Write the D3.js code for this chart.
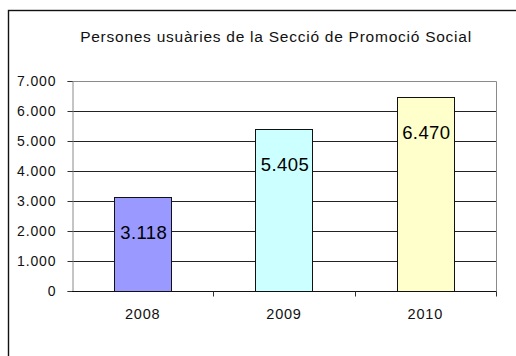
<!DOCTYPE html>
<html>
<head>
<meta charset="utf-8">
<script src="https://cdn.jsdelivr.net/npm/d3@7"></script>
<style>
  html, body { margin: 0; padding: 0; background: #fff; }
  svg { display: block; font-family: "Liberation Sans", Arial, Helvetica, sans-serif; }
</style>
</head>
<body>
<svg id="chart" width="516" height="356"></svg>
<script>
// Chart data
const title = "Persones usuàries de la Secció de Promoció Social";
const years = ["2008", "2009", "2010"];
const users = [3118, 5405, 6470];
const barColors = ["#9999FF", "#CCFFFF", "#FFFFCC"];
const yTicks = [0, 1000, 2000, 3000, 4000, 5000, 6000, 7000];

const svg = d3.select("#chart");
const plot = { left: 72, right: 496, top: 81, bottom: 291 };

// Thousands separator is a dot (Catalan style)
const fmt = d3.formatLocale({ decimal: ",", thousands: ".", grouping: [3], currency: ["", " €"] }).format(",d");

// Outer chart frame (runs past the visible area on the right and bottom)
svg.append("rect")
  .attr("x", 8.5).attr("y", 10.5)
  .attr("width", 620).attr("height", 420)
  .attr("fill", "#fff").attr("stroke", "#111").attr("stroke-width", 1.4);

svg.append("text")
  .attr("x", 276).attr("y", 42)
  .attr("text-anchor", "middle")
  .attr("font-size", "15.5px")
  .attr("letter-spacing", "0.75px")
  .attr("fill", "#111")
  .text(title);

const x = d3.scaleBand().domain(years).range([plot.left, plot.right]).padding(0);
const y = d3.scaleLinear().domain([0, 7000]).range([plot.bottom, plot.top]);
const barW = x.bandwidth() * 0.405;

// Horizontal gridlines
svg.append("g")
  .selectAll("line")
  .data(yTicks.filter(v => v > 0 && v < 7000))
  .join("line")
  .attr("x1", plot.left).attr("x2", plot.right)
  .attr("y1", d => Math.round(y(d)) + 0.5).attr("y2", d => Math.round(y(d)) + 0.5)
  .attr("stroke", "#222").attr("stroke-width", 1);

// Plot-area border (top and right)
svg.append("path")
  .attr("d", `M${plot.left},${Math.round(y(7000)) + 0.5}H${plot.right + 0.5}V${plot.bottom}`)
  .attr("fill", "none").attr("stroke", "#8a8a8a").attr("stroke-width", 1);

// Bars
svg.append("g")
  .selectAll("rect")
  .data(years)
  .join("rect")
  .attr("x", d => Math.round(x(d) + (x.bandwidth() - barW) / 2) + 0.5)
  .attr("y", (d, i) => Math.round(y(users[i])) + 0.5)
  .attr("width", Math.round(barW))
  .attr("height", (d, i) => Math.round(y(0)) - Math.round(y(users[i])))
  .attr("fill", (d, i) => barColors[i])
  .attr("stroke", "#111").attr("stroke-width", 1);

// Value labels inside the bars
svg.append("g")
  .selectAll("text")
  .data(years)
  .join("text")
  .attr("x", d => x(d) + x.bandwidth() / 2 + 1)
  .attr("y", (d, i) => y(users[i]) + 35)
  .attr("dy", "0.36em")
  .attr("text-anchor", "middle")
  .attr("font-size", "18.5px")
  .attr("letter-spacing", "0.4px")
  .attr("fill", "#000")
  .text((d, i) => fmt(users[i]));

// Y axis
const yAxis = d3.axisLeft(y).tickValues(yTicks).tickFormat(fmt).tickSize(5).tickPadding(11);
const gy = svg.append("g").attr("transform", `translate(${plot.left + 0.5},0)`).call(yAxis);
gy.select(".domain").attr("stroke", "#8a8a8a");
gy.selectAll(".tick line").attr("stroke", "#333");
gy.selectAll(".tick text")
  .attr("font-size", "14px").attr("letter-spacing", "0.9px")
  .attr("fill", "#111").attr("font-family", "Liberation Sans, Arial, sans-serif");

// X axis: ticks on category boundaries, labels centered on each band
const boundaries = years.map(d => x(d)).concat([plot.right]);
const gx = svg.append("g").attr("transform", `translate(0,${Math.round(y(0)) + 0.5})`);
gx.append("line")
  .attr("x1", plot.left).attr("x2", plot.right + 0.5)
  .attr("stroke", "#111");
gx.selectAll("line.tk")
  .data(boundaries.slice(1))
  .join("line")
  .attr("class", "tk")
  .attr("x1", d => Math.round(d) + 0.5).attr("x2", d => Math.round(d) + 0.5)
  .attr("y1", 0).attr("y2", 5)
  .attr("stroke", "#333");
gx.selectAll("text")
  .data(years)
  .join("text")
  .attr("x", d => x(d) + x.bandwidth() / 2)
  .attr("y", 27)
  .attr("text-anchor", "middle")
  .attr("font-size", "14.5px")
  .attr("letter-spacing", "0.8px")
  .attr("fill", "#111")
  .text(d => d);
</script>
</body>
</html>
